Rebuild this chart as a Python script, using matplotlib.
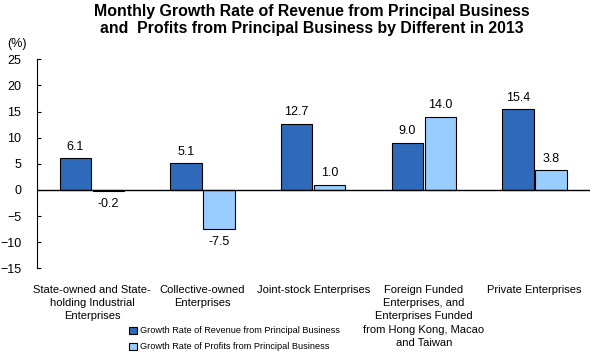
import numpy as np
import matplotlib.pyplot as plt

plt.rcParams['font.family'] = ['Liberation Sans', 'DejaVu Sans']

categories = [
    "State-owned and State-\nholding Industrial\nEnterprises",
    "Collective-owned\nEnterprises",
    "Joint-stock Enterprises",
    "Foreign Funded\nEnterprises, and\nEnterprises Funded\nfrom Hong Kong, Macao\nand Taiwan",
    "Private Enterprises",
]
revenue = [6.1, 5.1, 12.7, 9.0, 15.4]
profits = [-0.2, -7.5, 1.0, 14.0, 3.8]
yticks = [-15, -10, -5, 0, 5, 10, 15, 20, 25]

dark = '#2F69BA'
light = '#99CCFF'

fig = plt.figure(figsize=(5.94, 3.58), dpi=100)
ax = fig.add_axes([0.0618, 0.2505, 0.931, 0.5838])

x = np.arange(len(categories))
w = 0.283
off = 0.149
b1 = ax.bar(x - off, revenue, w, color=dark, edgecolor='black', linewidth=0.8,
            label='Growth Rate of Revenue from Principal Business')
b2 = ax.bar(x + off, profits, w, color=light, edgecolor='black', linewidth=0.8,
            label='Growth Rate of Profits from Principal Business')

# value labels
for bars, vals in ((b1, revenue), (b2, profits)):
    for b, v in zip(bars, vals):
        cx = b.get_x() + b.get_width() / 2
        if v >= 0:
            ax.annotate(f"{v:.1f}", (cx, v), xytext=(0, 4), textcoords='offset points',
                        ha='center', va='bottom', fontsize=9)
        else:
            ax.annotate(f"{v:.1f}", (cx, v), xytext=(0, -5), textcoords='offset points',
                        ha='center', va='top', fontsize=9)

ax.axhline(0, color='black', linewidth=1)
ax.set_xlim(-0.5, 4.5)
ax.set_ylim(-15, 25)
ax.set_yticks(yticks)
ax.tick_params(axis='y', direction='in', length=3, labelsize=9, pad=11, width=0.8)
ax.set_xticks([])
for s in ('top', 'right', 'bottom'):
    ax.spines[s].set_visible(False)
ax.spines['left'].set_linewidth(0.8)

# category labels under the plot
for i, c in enumerate(categories):
    ax.text(i, -0.078, c, transform=ax.get_xaxis_transform(), ha='center', va='top',
            fontsize=8, linespacing=1.42)

fig.text(0.012, 0.877, "(%)", fontsize=9, ha='left', va='center')
fig.text(0.525, 0.99, "Monthly Growth Rate of Revenue from Principal Business\n"
         "and  Profits from Principal Business by Different in 2013",
         fontsize=11.4, fontweight='bold', ha='center', va='top', linespacing=1.2)

fig.legend(handles=[b1, b2], loc='upper left', bbox_to_anchor=(0.218, 0.088),
           frameon=False, fontsize=6.6, handlelength=0.8, handleheight=0.8,
           handletextpad=0.3, labelspacing=0.75, borderaxespad=0, borderpad=0)

fig.savefig('out.png', dpi=100)
